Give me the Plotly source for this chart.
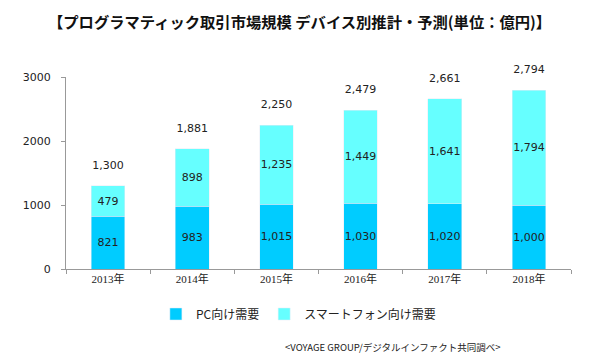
import plotly.graph_objects as go

years = ["2013年", "2014年", "2015年", "2016年", "2017年", "2018年"]
pc = [821, 983, 1015, 1030, 1020, 1000]
sp = [479, 898, 1235, 1449, 1641, 1794]
totals = [1300, 1881, 2250, 2479, 2661, 2794]
yticks = [0, 1000, 2000, 3000]

lab_font = dict(family="DejaVu Sans, Noto Sans CJK JP", size=11, color="#222")

fig = go.Figure()
fig.add_trace(go.Bar(x=years, y=pc, name="PC向け需要", marker_color="#00CCFF",
                     text=[f"{v:,}" for v in pc], textposition="inside", textangle=0,
                     constraintext="none", insidetextanchor="middle", textfont=lab_font,
                     width=0.4))
fig.add_trace(go.Bar(x=years, y=sp, name="スマートフォン向け需要", marker_color="#66FFFF",
                     text=[f"{v:,}" for v in sp], textposition="inside", textangle=0,
                     constraintext="none", insidetextanchor="middle", textfont=lab_font,
                     width=0.4))
fig.add_trace(go.Scatter(x=years, y=totals, mode="text",
                         text=[f"{v:,}<br> " for v in totals],
                         textposition="top center", textfont=lab_font, showlegend=False,
                         hoverinfo="skip", cliponaxis=False))

fig.update_layout(
    barmode="stack", width=592, height=354,
    margin=dict(l=58, r=29, t=69, b=93, autoexpand=False),
    plot_bgcolor="white", paper_bgcolor="white",
    showlegend=True,
    legend=dict(orientation="h", x=0.178, xanchor="left", yref="container", y=0.1356,
                yanchor="middle",
                font=dict(family="Noto Sans CJK JP", size=12, color="#222"),
                itemwidth=30, traceorder="normal"),
    xaxis=dict(showline=True, linecolor="#999", linewidth=1, ticks="outside",
               tickson="boundaries", ticklen=4, tickcolor="#999",
               tickfont=dict(family="Liberation Serif, Noto Sans CJK JP", size=11, color="#222")),
    yaxis=dict(range=[0, 3000], tickvals=yticks, tickformat="d", showline=True,
               linecolor="#999", linewidth=1, showgrid=False, zeroline=False,
               ticks="outside", ticklen=4, tickcolor="#999", ticklabelstandoff=8,
               tickfont=dict(family="DejaVu Sans", size=11, color="#222")),
    annotations=[
        dict(text="<b>【プログラマティック取引市場規模 デバイス別推計・予測(単位：億円)】</b>",
             xref="paper", yref="paper", x=0.463, y=1.29, xanchor="center",
             yanchor="middle", showarrow=False,
             font=dict(family="Noto Sans CJK JP", size=15.3, color="#111")),
        dict(text="<VOYAGE GROUP/デジタルインファクト共同調べ>", xref="paper",
             yref="paper", x=0.865, y=-0.406, xanchor="right", yanchor="middle",
             showarrow=False,
             font=dict(family="Noto Sans CJK JP", size=9.5, color="#222")),
    ],
)
fig.write_html("out.html")
